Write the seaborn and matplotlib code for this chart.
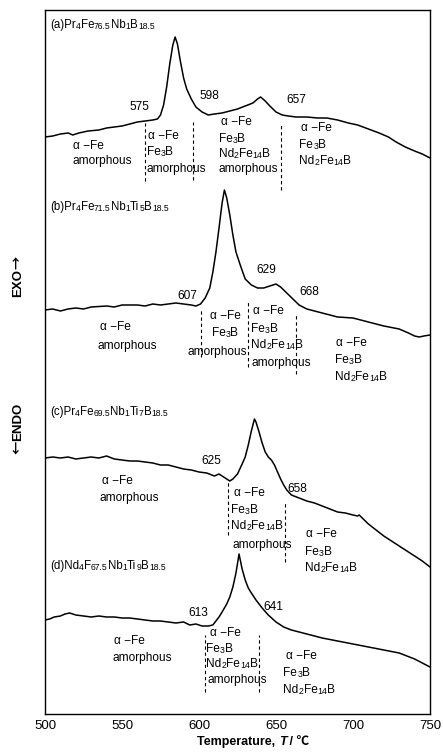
import re
import matplotlib
matplotlib.use("Agg")
import matplotlib.pyplot as plt
import pandas as pd
import seaborn as sns

# ---- DSC traces: temperature (°C) and heat flow (a.u., relative to the 500 °C value) ----
T_a = [500, 505, 510, 515, 518, 522, 528, 535, 540, 545, 550, 555, 560, 565, 570, 573,
       575, 577, 579, 581, 583, 584.5, 586, 588, 590, 592, 595, 598, 602, 606, 610, 615,
       620, 625, 630, 635, 638, 640, 643, 646, 650, 654, 658, 663, 670, 677, 683, 690,
       697, 703, 710, 717, 723, 728, 734, 740, 745, 750]
dsc_a = [0, 1, 3, 4, 2, 4, 6, 7, 9, 10, 11, 13, 15, 16, 17, 18,
         22, 32, 50, 73, 92, 100, 93, 75, 59, 48, 38, 30, 25, 22, 23, 24,
         26, 28, 31, 34, 38, 40, 36, 31, 25, 22, 21, 20, 20, 19, 19, 17,
         14, 12, 8, 4, 0, -5, -10, -14, -17, -21]

T_b = [500, 505, 510, 515, 520, 525, 530, 540, 545, 550, 560, 565, 570, 575, 580, 585,
       590, 595, 598, 601, 604, 607, 609, 611, 613, 615, 616.5, 618, 620, 622, 624, 627,
       630, 634, 638, 642, 646, 650, 653, 657, 661, 665, 670, 675, 680, 690, 700, 710,
       720, 730, 736, 740, 743, 746, 750]
dsc_b = [0, 1, -1, 1, 2, 1, 3, 4, 3, 5, 5, 4, 6, 5, 6, 7,
         6, 5, 4, 6, 12, 22, 38, 58, 82, 107, 120, 112, 95, 75, 58, 44,
         31, 25, 22, 22, 24, 26, 23, 17, 11, 5, 1, -1, -3, -7, -8, -12,
         -16, -19, -23, -26, -27, -26, -25]

T_c = [500, 505, 510, 515, 520, 525, 530, 535, 540, 545, 550, 555, 560, 565, 570, 575,
       580, 585, 590, 595, 600, 605, 610, 613, 616, 620, 622, 625, 628, 630, 632, 634,
       636, 637, 639, 641, 643, 645, 647, 649, 651, 653, 655, 657, 660, 665, 670, 675,
       680, 685, 690, 695, 700, 703, 704, 706, 710, 715, 720, 725, 730, 735, 740, 745, 750]
dsc_c = [0, 1, 0, 1, -1, 0, 1, 0, 2, -1, -2, -3, -3, -4, -5, -7,
         -7, -9, -11, -12, -14, -15, -18, -16, -19, -23, -21, -16, -6, 1, 13, 27,
         39, 36, 26, 15, 6, 1, -2, -7, -14, -21, -27, -32, -37, -40, -43, -45,
         -48, -51, -54, -55, -57, -58, -57, -60, -66, -72, -78, -83, -88, -93, -98, -103, -109]

T_d = [500, 503, 506, 510, 513, 516, 520, 525, 530, 535, 540, 545, 550, 555, 560, 565,
       570, 575, 580, 585, 590, 594, 598, 602, 606, 609, 613, 615, 618, 620, 622, 624,
       626, 628, 630, 632, 634, 637, 641, 645, 650, 655, 660, 665, 670, 680, 690, 700,
       710, 720, 730, 735, 740, 745, 750]
dsc_d = [0, 1, 3, 4, 6, 7, 5, 4, 3, 4, 3, 3, 2, 2, 1, 0,
         -1, -1, -2, -3, -2, -5, -4, -6, -6, -5, 3, 8, 16, 23, 33, 47,
         66, 51, 40, 32, 27, 20, 12, 5, -2, -7, -10, -12, -14, -18, -21, -24,
         -27, -30, -33, -36, -39, -43, -47]

# Sample compositions ("_{..}" marks the small-index parts)
samples = [
    "(a)Pr_{4}Fe_{76.5}Nb_{1}B_{18.5}",
    "(b)Pr_{4}Fe_{71.5}Nb_{1}Ti_{5}B_{18.5}",
    "(c)Pr_{4}Fe_{69.5}Nb_{1}Ti_{7}B_{18.5}",
    "(d)Nd_{4}F_{67.5}Nb_{1}Ti_{9}B_{18.5}",
]
traces = [(T_a, dsc_a), (T_b, dsc_b), (T_c, dsc_c), (T_d, dsc_d)]

# Crystallization onset temperatures (°C) quoted for each sample
onsets = [["575", "598", "657"], ["607", "629", "668"], ["625", "658"], ["613", "641"]]

# Phase boundaries drawn as dashed lines (°C)
boundaries = [[565, 596, 653], [601, 632, 663], [619, 656], [604, 639]]

# ---- layout ----
offsets = [577, 404, 256, 94]          # vertical stacking of the traces
title_pos = [(503.2, 689), (503.2, 507), (503.2, 302), (503.2, 148)]
onset_pos = [[(561.5, 607), (606.9, 618), (663.2, 614)],
             [(592.6, 418), (643.8, 444), (671.6, 422)],
             [(608.2, 253), (664.0, 225)],
             [(599.3, 101), (648.1, 107)]]
boundary_span = [[(533, 591), (534, 592), (524, 591)],
                 [(357, 404), (347, 414), (340, 399)],
                 [(179, 232), (152, 211)],
                 [(22, 79), (22, 79)]]

AFE = "α −Fe"
AMO = "amorphous"
FE3B = "Fe_{3}B"
ND = "Nd_{2}Fe_{14}B"
phase_text = [
    [(518.1, 568, AFE), (518.1, 553, AMO),
     (567.2, 578, AFE), (566.0, 562, FE3B), (566.0, 545, AMO),
     (614.0, 592, AFE), (612.7, 575, FE3B), (612.7, 560, ND), (612.7, 545, AMO),
     (666.0, 586, AFE), (665.2, 569, FE3B), (665.2, 553, ND)],
    [(535.6, 387, AFE), (534.3, 368, AMO),
     (606.9, 398, AFE), (608.2, 381, FE3B), (592.4, 362, AMO),
     (634.9, 403, AFE), (633.9, 385, FE3B), (633.9, 369, ND), (633.9, 351, AMO),
     (689.2, 371, AFE), (688.5, 354, FE3B), (688.5, 337, ND)],
    [(536.7, 233, AFE), (535.6, 216, AMO),
     (623.0, 221, AFE), (620.9, 204, FE3B), (620.9, 188, ND), (621.5, 169, AMO),
     (669.5, 180, AFE), (668.8, 162, FE3B), (668.8, 146, ND)],
    [(544.7, 73, AFE), (543.8, 56, AMO),
     (607.3, 81, AFE), (604.7, 65, FE3B), (604.7, 50, ND), (605.3, 34, AMO),
     (656.5, 58, AFE), (654.8, 41, FE3B), (654.8, 24, ND)],
]

sns.set_theme(style="white")
FONTS = ["Liberation Sans", "Noto Sans CJK JP", "DejaVu Sans"]
ARROW_FONTS = ["Noto Sans CJK JP", "DejaVu Sans"]
plt.rcParams["font.family"] = FONTS
plt.rcParams["axes.unicode_minus"] = False

fig = plt.figure(figsize=(4.43, 7.54), dpi=100)
ax = fig.add_axes([45 / 443, 40 / 754, 385 / 443, 704 / 754])

frames = []
for i, ((T, q), off) in enumerate(zip(traces, offsets)):
    frames.append(pd.DataFrame({"T": T, "y": [v + off for v in q], "sample": i}))
df = pd.concat(frames, ignore_index=True)

for i in range(len(traces)):
    sns.lineplot(data=df[df["sample"] == i], x="T", y="y", ax=ax, color="black",
                 lw=1.1, estimator=None, sort=True, legend=False)


def rich(ax, x, y, s, size, small, ha="left"):
    """Draw text whose '_{..}' parts are set in a smaller size, baseline-aligned."""
    pieces = re.split(r"_\{([^}]*)\}", s)
    prev = None
    for k, p in enumerate(pieces):
        if not p:
            continue
        fs = small if k % 2 else size
        if prev is None:
            prev = ax.text(x, y, p, fontsize=fs, ha=ha, va="center", color="black",
                           family=FONTS)
        else:
            prev = ax.annotate(p, xy=(1, 0), xycoords=prev, fontsize=fs, ha="left",
                               va="bottom", color="black", family=FONTS)
    return prev


for i in range(4):
    rich(ax, *title_pos[i], samples[i], 8.3, 6.2)
    for lab, (x, y) in zip(onsets[i], onset_pos[i]):
        ax.text(x, y, lab, fontsize=8.6, ha="center", va="center", color="black")
    for xb, (y0, y1) in zip(boundaries[i], boundary_span[i]):
        ax.plot([xb, xb], [y0, y1], color="black", lw=0.8, ls=(0, (3, 2.5)))
    for x, y, s in phase_text[i]:
        rich(ax, x, y, s, 8.6, 6.3)

ax.set_xlim(500, 750)
ax.set_ylim(0, 704)
ax.set_xticks([500, 550, 600, 650, 700, 750])
ax.set_yticks([])
ax.tick_params(axis="x", direction="in", length=5, width=0.8, labelsize=9.5,
               colors="black", pad=4)
for sp in ax.spines.values():
    sp.set_color("black")
    sp.set_linewidth(1.0)
ax.set_xlabel("")
ax.set_ylabel("")

# axis titles
xl = ax.text((197 - 45) / 385, -0.040, "Temperature, ", transform=ax.transAxes,
             fontsize=9, fontweight="bold", ha="left", va="center", color="black")
t_it = ax.annotate("T", xy=(1, 0), xycoords=xl, fontsize=9, fontweight="bold",
                   fontstyle="italic", ha="left", va="bottom", color="black")
ax.annotate(" / ℃", xy=(1, 0), xycoords=t_it, fontsize=9, fontweight="bold",
            ha="left", va="bottom", color="black")

# EXO / ENDO direction labels along the left side
exo = fig.text(18 / 443, 1 - 283 / 754, "EXO", rotation=90, fontsize=9.5,
               fontweight="bold", ha="center", va="center", color="black")
ax.annotate("→", xy=(0.5, 1), xycoords=exo, rotation=90, fontsize=9.5,
            fontweight="bold", ha="center", va="bottom", color="black",
            family=ARROW_FONTS, annotation_clip=False)
endo = fig.text(18 / 443, 1 - 422 / 754, "ENDO", rotation=90, fontsize=9.5,
                fontweight="bold", ha="center", va="center", color="black")
ax.annotate("←", xy=(0.5, 0), xycoords=endo, rotation=90, fontsize=9.5,
            fontweight="bold", ha="center", va="top", color="black",
            family=ARROW_FONTS, annotation_clip=False)

fig.savefig("out.png", dpi=100, facecolor="white")
